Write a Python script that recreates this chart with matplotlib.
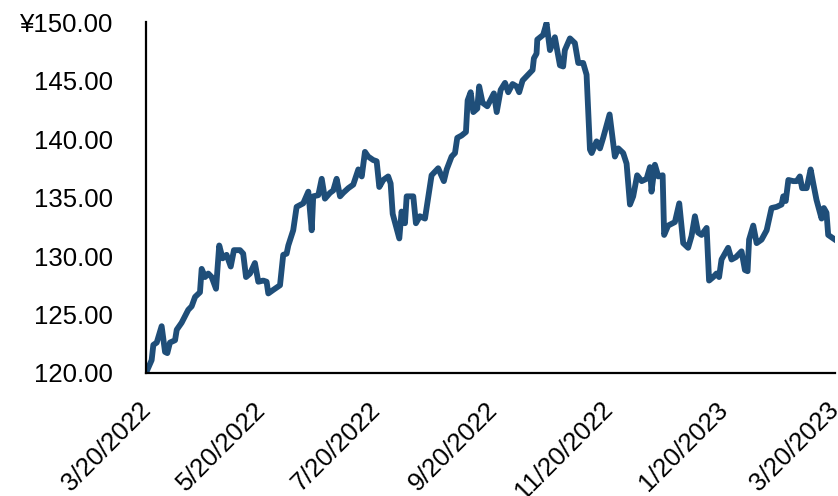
import matplotlib
matplotlib.use("Agg")
import matplotlib.pyplot as plt
import matplotlib.transforms as mtransforms
import pandas as pd
from matplotlib.ticker import FuncFormatter

plt.rcParams["font.family"] = ["Liberation Sans", "DejaVu Sans"]

# USD/JPY close, sampled at turning points (days since 2022-03-20)
start = pd.Timestamp("2022-03-20")
days = [
    0, 3, 3.9, 5.7, 8.3, 10.1, 11.3, 12.7, 15.4, 16.3, 18.9, 22.4, 24.2, 26,
    28.6, 29.5, 31.3, 33, 34.8, 37.1, 38.8, 40.6, 42.7, 44.9, 46.6, 49.8, 51.5,
    53, 55.1, 57.7, 59.5, 62.1, 63.9, 64.8, 67.4, 71, 72.7, 74.5, 75.4, 78, 79.8,
    83.3, 86, 87.8, 88.6, 91.3, 93.1, 94.8, 97.5, 99.2, 101, 102.8, 104.5, 107.2,
    109.8, 112.5, 114.3, 116, 117.7, 120.4, 122.2, 123.6, 125.7, 128.3, 129.6,
    130.7, 134.2, 135.4, 137.2, 138.1, 141.6, 143, 145.1, 147.8, 151.3, 154.8,
    157.8, 159.3, 161.9, 163.7, 164.9, 167.2, 169.5, 170.4, 172, 173.4, 175.5,
    176.5, 178.3, 180.8, 184.3, 185.8, 187.9, 190.2, 191.9, 194.2, 196.3, 197.7,
    199.5, 203, 204.8, 205.5, 206.9, 207.3, 210.4, 212.2, 214, 216.6, 219.3, 221,
    221.9, 224.6, 227.2, 229, 231.6, 233.4, 235.2, 236.1, 238.7, 240.5, 242.2,
    245.6, 248.4, 250.2, 252.8, 254.6, 256.4, 258.1, 260.2, 262.6, 265.2, 267,
    267.8, 269.6, 271.4, 273.7, 274.5, 276.6, 280.2, 282.5, 284.6, 287.2, 289,
    290.8, 292.5, 294.3, 297, 298.3, 300.5, 302.2, 303.6, 304.9, 308.4, 310.2,
    312.5, 315.5, 317.3, 318.7, 319.5, 321.7, 323.5, 326.1, 328.8, 331.4, 334.1,
    336.7, 337.6, 338.9, 340.3, 342.9, 344.7, 346.4, 347.6, 350, 352.1, 353.5,
    355.2, 357.9, 359.1, 360.5, 361.4, 365,
]
rate = [
    120.0, 121.1, 122.4, 122.6, 124.0, 121.8, 121.7, 122.6, 122.8, 123.7, 124.3,
    125.4, 125.7, 126.5, 126.9, 128.9, 128.2, 128.5, 128.2, 127.2, 130.9, 129.8,
    130.1, 129.1, 130.5, 130.5, 130.2, 128.2, 128.5, 129.4, 127.8, 127.9, 127.8,
    126.8, 127.1, 127.5, 130.1, 130.2, 130.9, 132.2, 134.2, 134.5, 135.5, 132.2,
    135.1, 135.2, 136.6, 134.9, 135.4, 135.6, 136.6, 135.1, 135.4, 135.8, 136.1,
    137.4, 136.8, 138.9, 138.5, 138.2, 138.1, 135.9, 136.5, 136.8, 136.2, 133.6,
    131.5, 133.8, 132.8, 135.1, 135.1, 132.8, 133.4, 133.2, 136.9, 137.5, 136.4,
    137.4, 138.5, 138.8, 140.1, 140.3, 140.6, 143.3, 144.0, 142.3, 142.6, 144.5,
    143.1, 142.8, 143.9, 142.3, 144.2, 144.8, 144.0, 144.7, 144.5, 144.0, 145.0,
    145.6, 145.9, 146.9, 147.3, 148.5, 148.9, 149.9, 147.6, 148.7, 146.3, 146.2,
    147.6, 148.6, 148.2, 146.5, 146.5, 145.5, 139.1, 138.8, 139.8, 139.2, 140.1,
    142.1, 138.5, 139.2, 138.8, 137.9, 134.4, 135.1, 136.9, 136.4, 136.6, 137.6,
    135.5, 137.8, 136.8, 136.9, 131.8, 132.6, 132.9, 134.5, 131.1, 130.7, 131.7,
    133.4, 132.0, 131.8, 132.4, 127.9, 128.2, 128.5, 128.2, 129.7, 130.7, 129.7,
    129.9, 130.4, 128.8, 128.7, 131.4, 132.6, 131.1, 131.4, 132.2, 134.1, 134.2,
    134.4, 135.1, 134.7, 136.5, 136.4, 136.4, 136.8, 135.8, 135.8, 137.4, 136.2,
    134.8, 133.2, 134.1, 133.7, 131.8, 131.4,
]
tick_dates = ["2022-03-20", "2022-05-20", "2022-07-20", "2022-09-20",
              "2022-11-20", "2023-01-20", "2023-03-20"]
tick_labels = ["3/20/2022", "5/20/2022", "7/20/2022", "9/20/2022",
               "11/20/2022", "1/20/2023", "3/20/2023"]

dates = start + pd.to_timedelta(days, unit="D")

fig = plt.figure(figsize=(8.38, 4.96), dpi=100)
ax = fig.add_axes([0.1742, 0.248, 0.8222, 0.7076])

ax.plot(dates, rate, color="#1f4e79", lw=4.2, solid_joinstyle="round")

ax.set_xlim(pd.Timestamp(tick_dates[0]), pd.Timestamp(tick_dates[-1]))
ax.set_ylim(120, 150)
ax.set_yticks(range(120, 151, 5))
ax.yaxis.set_major_formatter(
    FuncFormatter(lambda v, _: f"¥{v:.2f}" if v == 150 else f"{v:.2f}"))
ax.set_xticks(pd.to_datetime(tick_dates))
ax.set_xticklabels(tick_labels, rotation=45, ha="right", rotation_mode="anchor")

ax.tick_params(axis="y", length=0, pad=24, labelsize=18.5)
ax.tick_params(axis="x", length=0, pad=16, labelsize=18.5)

# nudge the slanted date labels so their ends sit just under each tick
shift = mtransforms.ScaledTranslation(-0.08, -0.02, fig.dpi_scale_trans)
for lbl in ax.get_xticklabels():
    lbl.set_transform(lbl.get_transform() + shift)

for side in ["top", "right"]:
    ax.spines[side].set_visible(False)
for side in ["left", "bottom"]:
    ax.spines[side].set_linewidth(1.6)
    ax.spines[side].set_color("black")

fig.savefig("out.png", dpi=100)
